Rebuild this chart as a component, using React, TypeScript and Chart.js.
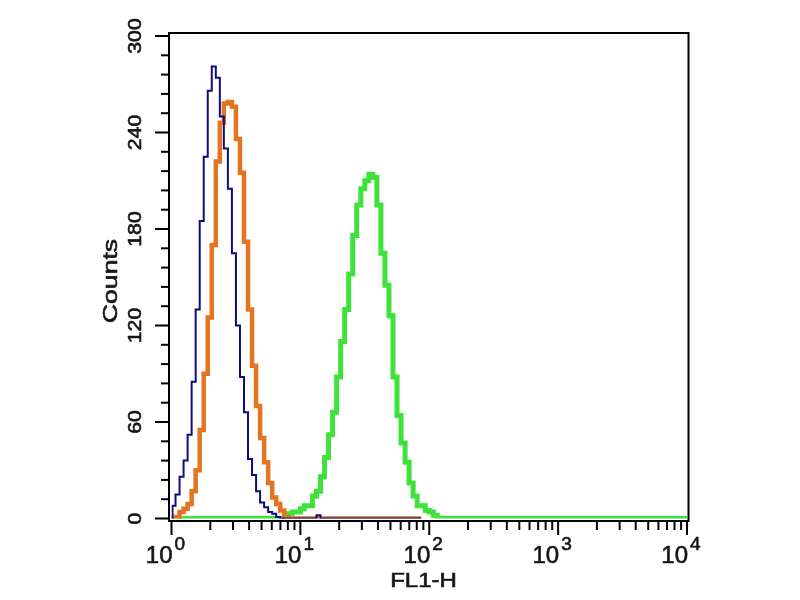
import React, { useEffect, useRef } from "react";
import { Chart, registerables } from "chart.js";

Chart.register(...registerables);

// Histogram channels: 32 channels per decade over 4 decades (10^0 .. 10^4)
const CHANNELS_PER_DECADE = 32;
const TOTAL_CHANNELS = 128;

// Blue (isotype / unstained) histogram, counts per channel starting at channel blueStart
const blueStart = 0;
const blueCounts = [
  8, 15, 26, 36, 52, 85, 130, 185, 225, 266, 281, 274, 250, 230, 205, 165, 120, 88, 66, 37,
  27, 17, 10, 7, 4, 3, 1, 0, 0, 0, 0, 0, 0, 0, 0, 0, 2,
];
const blueEnd = 62;

// Orange histogram
const orangeStart = 1;
const orangeCounts = [
  1, 4, 6, 9, 17, 30, 55, 90, 125, 170, 222, 246, 258, 259, 256, 236, 215, 172, 130, 95,
  70, 50, 35, 22, 13, 9, 5, 1,
];
const orangeEnd = 62;

// Green histogram
const greenStart = 28;
const greenCounts = [
  1, 3, 4, 4, 6, 8, 8, 14, 17, 26, 38, 52, 66, 88, 110, 130, 152, 176, 195, 205, 210, 214,
  212, 195, 165, 145, 126, 88, 64, 47, 35, 22, 14, 8, 8, 5, 4, 2,
];
const greenEnd = TOTAL_CHANNELS;

// Axis ticks / labels
const xDecades = [1, 10, 100, 1000, 10000];
const xDecadeExponents = ["0", "1", "2", "3", "4"];
const yMajorTicks = [0, 60, 120, 180, 240, 300];
const yMinorStep = 12;
const xTitle = "FL1-H";
const yTitle = "Counts";

const chanCenter = (k: number) => Math.pow(10, (k + 0.5) / CHANNELS_PER_DECADE);
const chanEdge = (k: number) => Math.pow(10, k / CHANNELS_PER_DECADE);

function histPoints(start: number, counts: number[], endChannel: number) {
  const pts: { x: number; y: number }[] = [{ x: 1, y: 0 }];
  if (start > 0) pts.push({ x: chanCenter(start - 1), y: 0 });
  counts.forEach((c, i) => pts.push({ x: chanCenter(start + i), y: c }));
  pts.push({ x: chanCenter(start + counts.length), y: 0 });
  pts.push({ x: chanEdge(endChannel), y: 0 });
  return pts;
}

function drawText(
  ctx: CanvasRenderingContext2D,
  text: string,
  x: number,
  y: number,
  size: number,
  stretch: number,
  rot: number,
  align: CanvasTextAlign
) {
  ctx.save();
  ctx.translate(x, y);
  ctx.rotate(rot);
  ctx.scale(stretch, 1);
  ctx.font = `${size}px "Liberation Sans", Arial, sans-serif`;
  ctx.textAlign = align;
  ctx.textBaseline = "alphabetic";
  ctx.fillText(text, 0, 0);
  ctx.lineWidth = 0.6;
  ctx.strokeText(text, 0, 0);
  ctx.restore();
}

const framePlugin = {
  id: "flowFrame",
  afterDraw(chart: any) {
    const ctx: CanvasRenderingContext2D = chart.ctx;
    const xs = chart.scales.x;
    const ys = chart.scales.y;
    const left = xs.getPixelForValue(1) - 2.5;
    const right = xs.getPixelForValue(10000) + 1.5;
    const top = ys.getPixelForValue(300) - 3;
    const bottom = ys.getPixelForValue(0) + 2.5;

    ctx.save();
    ctx.strokeStyle = "#000";
    ctx.lineWidth = 2;
    ctx.strokeRect(left, top, right - left, bottom - top);

    // Y ticks
    for (let v = 0; v <= 300; v += yMinorStep) {
      const py = ys.getPixelForValue(v);
      const major = yMajorTicks.includes(v);
      ctx.beginPath();
      ctx.moveTo(left, py);
      ctx.lineTo(left - (major ? 14 : 8), py);
      ctx.stroke();
    }
    // X ticks
    for (let d = 0; d < xDecades.length; d++) {
      const base = xDecades[d];
      const mults = d === xDecades.length - 1 ? [1] : [1, 2, 3, 4, 5, 6, 7, 8, 9];
      mults.forEach((m) => {
        const px = xs.getPixelForValue(base * m);
        const major = m === 1;
        ctx.beginPath();
        ctx.moveTo(px, bottom);
        ctx.lineTo(px, bottom + (major ? 14 : 9));
        ctx.stroke();
      });
    }

    ctx.fillStyle = "#151515";
    ctx.strokeStyle = "#151515";
    // Y tick labels (rotated)
    yMajorTicks.forEach((v) => {
      const py = ys.getPixelForValue(v);
      drawText(ctx, String(v), 141, py, 18, 1.18, -Math.PI / 2, "center");
    });
    // X tick labels with superscripts
    xDecades.forEach((v, i) => {
      const px = xs.getPixelForValue(v);
      drawText(ctx, "10", px + 1, 563, 24, 1.0, 0, "right");
      drawText(ctx, xDecadeExponents[i], px + 3, 550, 19, 1.0, 0, "left");
    });
    // Titles
    drawText(ctx, xTitle, 423.5, 587, 20, 1.2, 0, "center");
    drawText(ctx, yTitle, 117, 281, 20, 1.33, -Math.PI / 2, "center");
    ctx.restore();
  },
};

export default function App() {
  const canvasRef = useRef<HTMLCanvasElement | null>(null);

  useEffect(() => {
    if (!canvasRef.current) return;
    const chart = new Chart(canvasRef.current, {
      type: "line",
      data: {
        datasets: [
          {
            label: "blue",
            data: histPoints(blueStart, blueCounts, blueEnd),
            borderColor: "#0c0c80",
            borderWidth: 2,
            stepped: "middle",
            pointRadius: 0,
            fill: false,
          },
          {
            label: "orange",
            data: histPoints(orangeStart, orangeCounts, orangeEnd),
            borderColor: "#e4741f",
            borderWidth: 4.5,
            stepped: "middle",
            pointRadius: 0,
            fill: false,
          },
          {
            label: "green",
            data: histPoints(greenStart, greenCounts, greenEnd),
            borderColor: "#3ee23a",
            borderWidth: 5,
            stepped: "middle",
            pointRadius: 0,
            fill: false,
          },
        ],
      },
      options: {
        responsive: false,
        animation: false,
        devicePixelRatio: 1,
        layout: { padding: { left: 171.5, right: 113, top: 36, bottom: 81.5 } },
        plugins: { legend: { display: false }, tooltip: { enabled: false } },
        scales: {
          x: { type: "logarithmic", min: 1, max: 10000, display: false },
          y: { type: "linear", min: 0, max: 300, display: false },
        },
      },
      plugins: [framePlugin],
    } as any);
    return () => chart.destroy();
  }, []);

  return (
    <div style={{ position: "fixed", left: 0, top: 0, width: 800, height: 600, background: "#fff" }}>
      <canvas ref={canvasRef} width={800} height={600} style={{ width: 800, height: 600 }} />
    </div>
  );
}
